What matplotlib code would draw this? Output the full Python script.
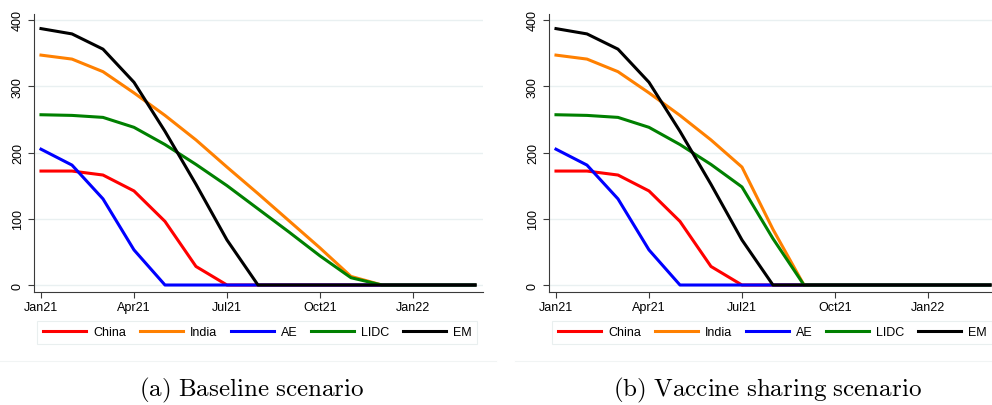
import numpy as np
import matplotlib.pyplot as plt
from matplotlib.lines import Line2D

plt.rcParams["font.family"] = ["Liberation Sans", "DejaVu Sans"]
plt.rcParams["mathtext.fontset"] = "cm"

# ── Data (monthly, Jan21 .. Mar22) ────────────────────────────────────────────
months = ["Jan21", "Feb21", "Mar21", "Apr21", "May21", "Jun21", "Jul21", "Aug21",
          "Sep21", "Oct21", "Nov21", "Dec21", "Jan22", "Feb22", "Mar22"]
tick_months = ["Jan21", "Apr21", "Jul21", "Oct21", "Jan22"]

china = [172, 172, 166, 142, 96, 28, 0, 0, 0, 0, 0, 0, 0, 0, 0]
ae = [205, 181, 130, 53, 0, 0, 0, 0, 0, 0, 0, 0, 0, 0, 0]
em = [387, 379, 356, 306, 232, 152, 68, 0, 0, 0, 0, 0, 0, 0, 0]

india_base = [347, 341, 322, 290, 256, 219, 178, 138, 97, 56, 13, 0, 0, 0, 0]
lidc_base = [257, 256, 253, 238, 212, 182, 150, 115, 80, 44, 11, 0, 0, 0, 0]

india_share = [347, 341, 322, 290, 256, 219, 178, 84, 0, 0, 0, 0, 0, 0, 0]
lidc_share = [257, 256, 253, 238, 212, 182, 148, 70, 0, 0, 0, 0, 0, 0, 0]

panels = [
    ("Baseline scenario", "a", india_base, lidc_base),
    ("Vaccine sharing scenario", "b", india_share, lidc_share),
]

# ── Styling ───────────────────────────────────────────────────────────────────
SERIES_COLOURS = {"China": "#ff0000", "India": "#ff8000", "AE": "#0000ff",
                  "LIDC": "#008000", "EM": "#000000"}
GRID = "#e9f0f1"
SPINE = "#3a3a3a"

W, H = 992, 406
fig = plt.figure(figsize=(W / 100, H / 100), dpi=100)

x = np.arange(len(months))
ax_left_px = [33.7, 548.7]
ax_w_px = 449.0
ax_top_px, ax_bot_px = 14.7, 293.3

for (title, tag, india, lidc), left in zip(panels, ax_left_px):
    ax = fig.add_axes([left / W, 1 - ax_bot_px / H, ax_w_px / W,
                       (ax_bot_px - ax_top_px) / H])
    series = {"China": china, "India": india, "AE": ae, "LIDC": lidc, "EM": em}
    for name, vals in series.items():
        ax.plot(x, vals, color=SERIES_COLOURS[name], lw=2.2, label=name,
                solid_joinstyle="round", clip_on=False, zorder=3)

    ax.set_xlim(-0.235, 14.25)
    ax.set_ylim(-11, 409.5)
    ax.set_yticks([0, 100, 200, 300, 400])
    ax.set_xticks([months.index(m) for m in tick_months])
    ax.set_xticklabels(tick_months)
    ax.tick_params(axis="both", labelsize=9, length=4, width=0.8,
                   color=SPINE, direction="out")
    ax.tick_params(axis="y", pad=3)
    ax.tick_params(axis="x", pad=2)
    for lab in ax.get_yticklabels():
        lab.set_rotation(90)
        lab.set_va("center")
    ax.grid(axis="y", color=GRID, lw=1.0, zorder=0)
    ax.set_axisbelow(True)
    for side in ("top", "right"):
        ax.spines[side].set_visible(False)
    for side in ("left", "bottom"):
        ax.spines[side].set_color(SPINE)
        ax.spines[side].set_linewidth(0.8)

    # legend box sits below the tick labels, one row of five entries
    leg = ax.legend(loc="upper left", ncol=5,
                    bbox_to_anchor=(0.008, -0.102),
                    fontsize=9, handlelength=3.44, handletextpad=0.56,
                    columnspacing=1.1, frameon=True, fancybox=False,
                    borderpad=0.45, borderaxespad=0)
    leg.get_frame().set_edgecolor("#e4ebec")
    leg.get_frame().set_linewidth(0.8)

    # faint graph-region edge under each panel
    fig.add_artist(Line2D([(left - 34) / W, (left - 34 + 496) / W],
                          [1 - 361.7 / H] * 2, color="#f1f4f4", lw=0.8))

    cx = (left - 33.7 + 252) / W
    fig.text(cx, 1 - 390 / H, r"$\mathrm{(%s)\ %s}$" % (tag, title.replace(" ", r"\ ")),
             ha="center", va="center", fontsize=18)

fig.savefig("out.png", dpi=100)
